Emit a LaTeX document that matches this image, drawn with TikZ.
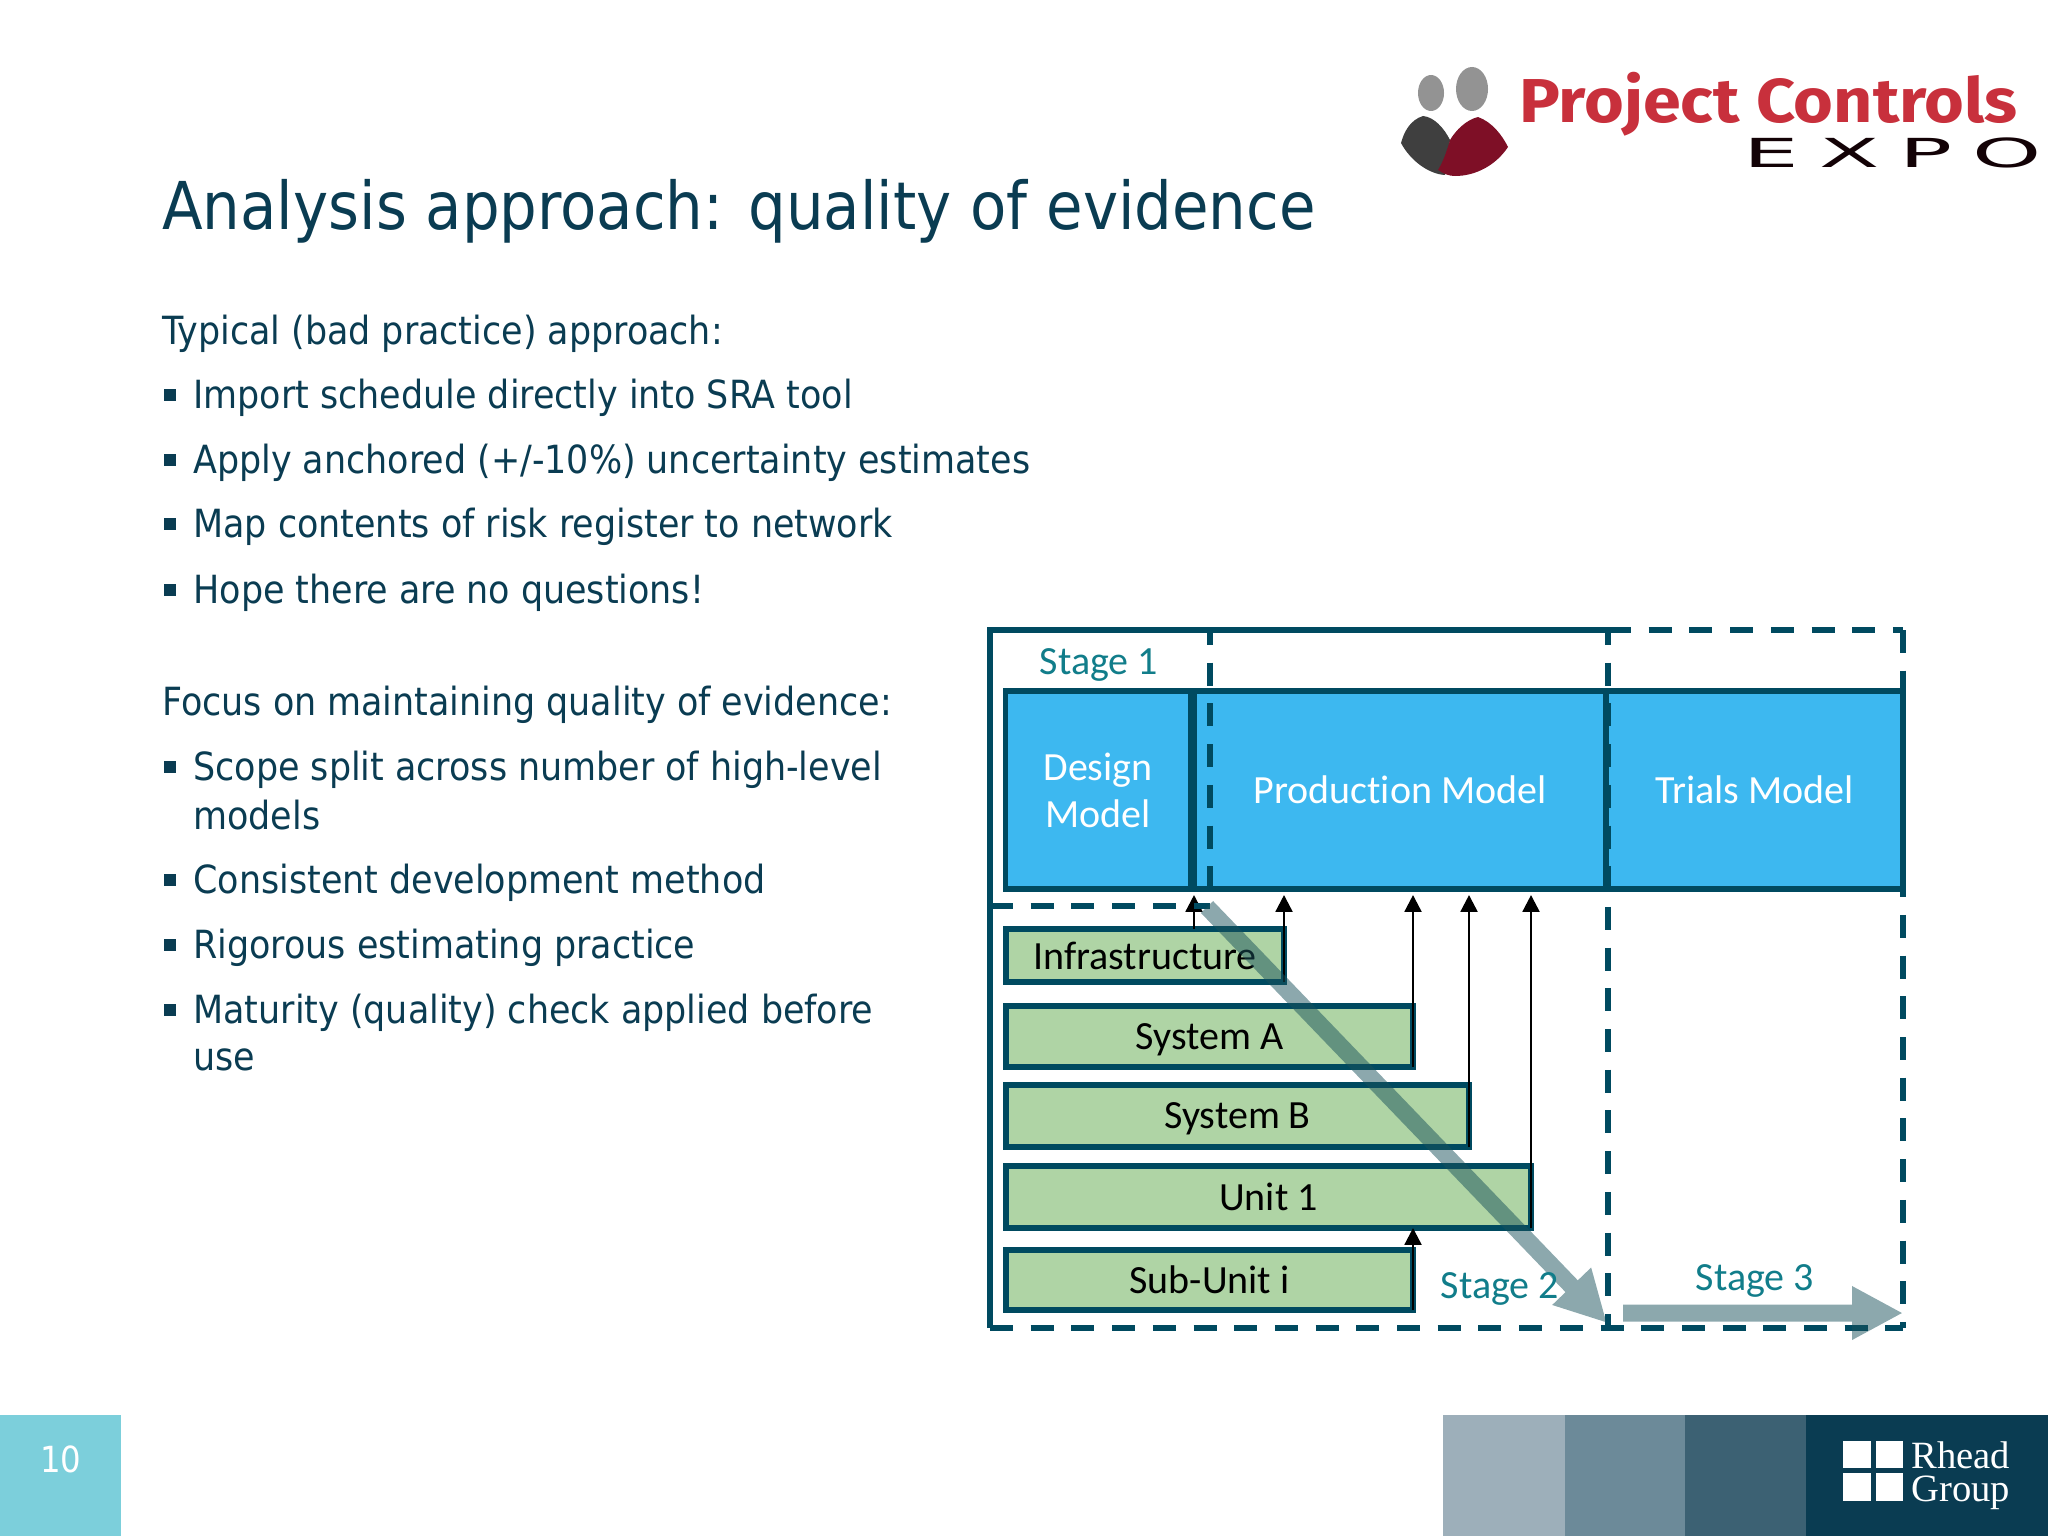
\documentclass[tikz,border=0pt]{standalone}
\usepackage{fontspec}
\setmainfont{DejaVu Sans Condensed}
\newfontfamily\labelfont[Ligatures=NoCommon]{Carlito}
\newfontfamily\logofont[FakeStretch=1.1]{Fira Sans}
\newfontfamily\expofont[FakeStretch=2.2,LetterSpace=50]{DejaVu Sans}
\newfontfamily\rheadfont{Liberation Serif}
\usetikzlibrary{arrows.meta, positioning, calc}
\definecolor{inkblue}{HTML}{0A3C52}
\definecolor{lineblue}{HTML}{004A60}
\definecolor{modelblue}{HTML}{3DB8F0}
\definecolor{subgreen}{HTML}{AFD4A5}
\definecolor{stageteal}{HTML}{117D8A}
\definecolor{flowteal}{HTML}{19515B}
\definecolor{pagecyan}{HTML}{7CCFDB}
\definecolor{logored}{HTML}{C8303C}
\definecolor{logomaroon}{HTML}{7E0F26}
\definecolor{logogray}{HTML}{3F3F3F}
\tikzset{
    title/.style={anchor=base west, inner sep=0pt, text=inkblue,
        font=\fontsize{33}{38}\selectfont},
    body/.style={anchor=base west, inner sep=0pt, text=inkblue,
        font=\fontsize{19.4}{22}\selectfont},
    bullet/.style={fill=inkblue, inner sep=0pt, minimum size=6pt},
    model/.style={draw=lineblue, line width=2.6pt, fill=modelblue, outer sep=0pt,
        inner sep=0pt, text=white, align=center,
        font=\labelfont\fontsize{20}{23.5}\selectfont},
    subsys/.style={draw=lineblue, line width=2.6pt, fill=subgreen, outer sep=0pt,
        inner sep=0pt, text=black, text depth=0pt,
        font=\labelfont\fontsize{20}{24}\selectfont},
    stage/.style={inner sep=0pt, text=stageteal,
        font=\labelfont\fontsize{20}{24}\selectfont},
    frame/.style={draw=lineblue, line width=2.6pt},
    framedash/.style={frame, dash pattern=on 11.5pt off 8.85pt},
    feed/.style={draw=black, line width=1.2pt, shorten >=3pt,
        -{Triangle[width=8.4pt,length=8.4pt]}},
    flow/.style={draw=flowteal, fill=flowteal, line width=8.5pt,
        -{Triangle[width=25pt,length=25.5pt]}},
    tile/.style={inner sep=0pt, outer sep=0pt, minimum height=60.5pt}
}
\begin{document}
\begin{tikzpicture}[x=.5pt, y=-.5pt]
    \useasboundingbox (0,0) rectangle (2048,1536);

    \node[title] (heading) at (162,229) {Analysis approach: quality of evidence};

    \node[body] (typical) at (162,344) {Typical (bad practice) approach:};
    \node[body] (focus) at (162,715) {Focus on maintaining quality of evidence:};
    \foreach \n/\y/\t in {imp/408/{Import schedule directly into SRA tool},
                          app/473/{Apply anchored (+/-10\%) uncertainty estimates},
                          map/537/{Map contents of risk register to network},
                          hop/603/{Hope there are no questions!},
                          sco/780/{Scope split across number of high-level},
                          con/893/{Consistent development method},
                          rig/958/{Rigorous estimating practice},
                          mat/1023/{Maturity (quality) check applied before}} {
        \node[bullet] (b\n) at (170,\y-13) {};
        \node[body] (\n) at (193,\y) {\t};
    }
    \node[body] (sco2) at (193,829) {models};
    \node[body] (mat2) at (193,1070) {use};

    \node[model, minimum width=92.25pt, minimum height=99pt] (design) at (1098,790) {Design\\Model};
    \node[model, minimum width=206pt, minimum height=99pt] (production) at (1400,790) {Production Model};
    \node[model, minimum width=148.5pt, minimum height=99pt] (trials) at (1754.5,790) {Trials Model};

    \node[subsys, minimum width=139pt, minimum height=26.5pt] (infra) at (1145,955.5) {Infrastructure};
    \node[subsys, minimum width=203.5pt, minimum height=30.5pt] (sysa) at (1209.5,1036.5) {System A};
    \node[subsys, minimum width=231.5pt, minimum height=31pt] (sysb) at (1237.5,1116) {System B};
    \node[subsys, minimum width=262.5pt, minimum height=31pt] (unit) at (1268.5,1197) {Unit 1};
    \node[subsys, minimum width=203.5pt, minimum height=30pt] (subunit) at (1209.5,1280) {Sub-Unit i};

    \draw[feed] (infra.north -| production.south west) -- (production.south west);
    \draw[feed] (infra.south east) -- (infra.south east |- production.south);
    \draw[feed] (sysa.south east) -- (sysa.south east |- production.south);
    \draw[feed] (sysb.south east) -- (sysb.south east |- production.south);
    \draw[feed] (unit.south east) -- (unit.south east |- production.south);
    \draw[feed, shorten >=0pt] (subunit.south east) -- (subunit.south east |- unit.south);

    \coordinate (nw) at (990,630);
    \coordinate (sw) at (990,1328);
    \coordinate (mid) at (1608,630);
    \coordinate (midb) at (1608,1328);
    \coordinate (ne) at (1903,630);
    \coordinate (se) at (1903,1328);
    \coordinate (one) at (1210,630);
    \coordinate (oneb) at (1210,906);
    \coordinate (onew) at (990,906);
    \draw[frame] (sw) -- (nw) -- (mid);
    \draw[framedash] (sw) -- (se);
    \draw[framedash] (onew) -- (oneb);
    \draw[framedash, dash phase=4pt] (one) -- (oneb);
    \draw[framedash, dash phase=4pt] (mid) -- (midb);
    \draw[framedash] (mid) -- (ne);
    \draw[framedash] (ne) -- (se);

    \coordinate (flowa) at (1207,907);
    \coordinate (flowb) at (1607,1323);
    \coordinate (flowc) at (1623,1313);
    \coordinate (flowd) at (1903,1313);
    \begin{scope}[transparency group, opacity=.5]
        \draw[flow] (flowa) -- (flowb);
    \end{scope}
    \begin{scope}[transparency group, opacity=.5]
        \draw[flow] (flowc) -- (flowd);
    \end{scope}

    \node[stage] (stage1) at (1099,665) {Stage 1};
    \node[stage] (stage2) at (1500,1289) {Stage 2};
    \node[stage] (stage3) at (1755,1281) {Stage 3};

    \node[fill=pagecyan, inner sep=0pt, minimum width=60.5pt, minimum height=60.5pt,
          anchor=north west] (page) at (0,1415) {};
    \node[text=white, inner sep=0pt, font=\fontsize{18}{22}\selectfont] (pagenum) at (61,1459) {10};

    \foreach \n/\x/\w/\c in {one/1443/61/9DAFBA, two/1565/60/6C8A99, three/1685/60.5/3C6173, four/1806/121/0A3C52} {
        \definecolor{tilecolor}{HTML}{\c}
        \node[tile, fill=tilecolor, minimum width=\w pt, anchor=north west] (tile\n) at (\x,1415) {};
    }
    \fill[white] (1843,1441) rectangle (1871,1468);
    \fill[white] (1876,1441) rectangle (1903,1468);
    \fill[white] (1843,1473) rectangle (1871,1501);
    \fill[white] (1876,1473) rectangle (1903,1501);
    \node[anchor=base west, inner sep=0pt, text=white, font=\rheadfont\fontsize{19.3}{20}\selectfont] (rhead) at (1911,1468) {Rhead};
    \node[anchor=base west, inner sep=0pt, text=white, font=\rheadfont\fontsize{19.3}{20}\selectfont] (group) at (1911,1501) {Group};

    \fill[gray!85] (1431,93) ellipse [x radius=13, y radius=18];
    \fill[gray!85] (1472,89) ellipse [x radius=16, y radius=22];
    \fill[logogray] (1423,116) .. controls (1410,120) and (1404,132) .. (1401,143)
        .. controls (1410,160) and (1428,174) .. (1445,175) -- (1450,140)
        .. controls (1444,128) and (1434,117) .. (1423,116) -- cycle;
    \fill[logomaroon] (1478,117) .. controls (1492,122) and (1502,135) .. (1508,147)
        .. controls (1496,165) and (1476,176) .. (1455,176)
        .. controls (1449,176) and (1444,174) .. (1438,170)
        .. controls (1444,160) and (1447,150) .. (1450,140)
        .. controls (1456,130) and (1466,120) .. (1478,117) -- cycle;
    \node[anchor=base west, inner sep=0pt, text=logored, font=\logofont\bfseries\fontsize{31}{34}\selectfont] (pcname) at (1519,122) {Project Controls};
    \node[anchor=base west, inner sep=0pt, text=black!85!logomaroon, font=\expofont\fontsize{20}{24}\selectfont] (expo) at (1743,167) {EXPO};
\end{tikzpicture}
\end{document}
